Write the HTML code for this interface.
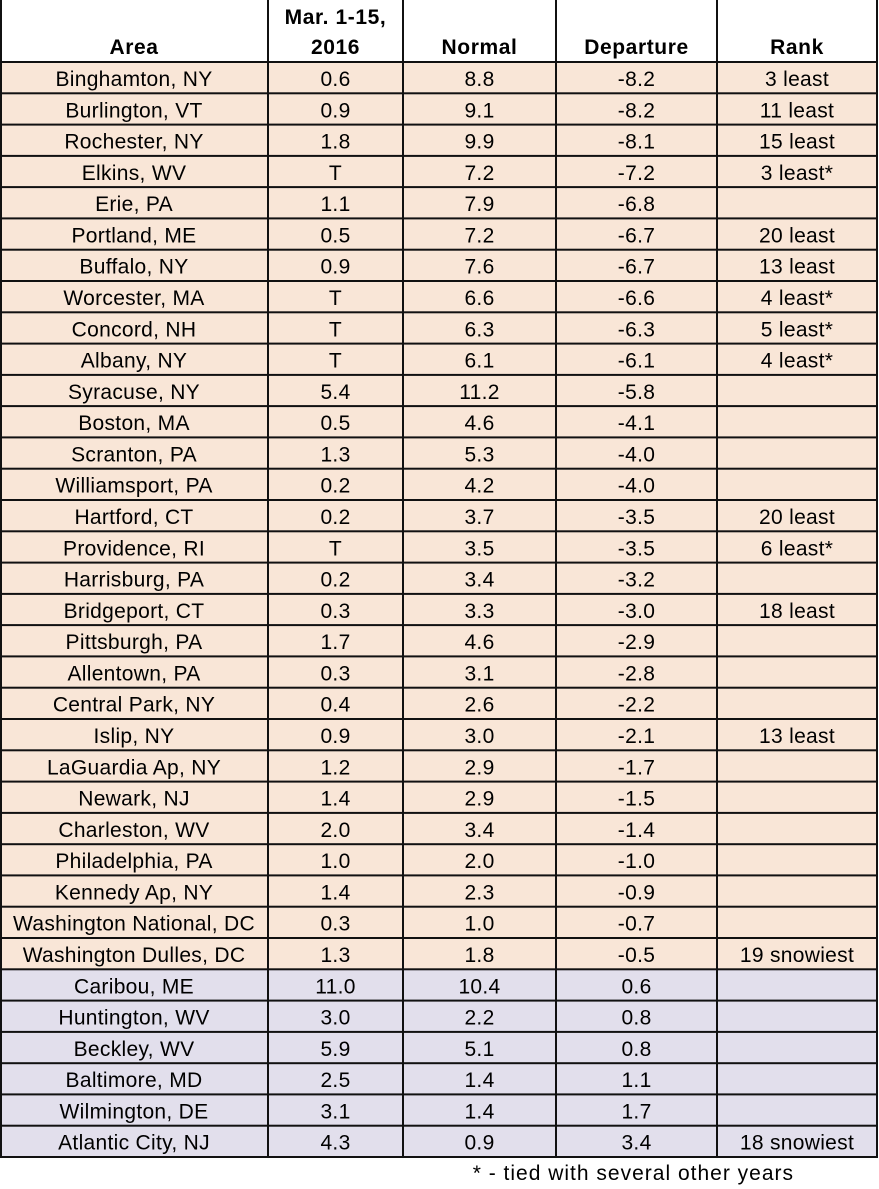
<!DOCTYPE html>
<html>
<head>
<meta charset="utf-8">
<style>
html,body{margin:0;padding:0;background:#fff;}
svg{display:block;}
text{font-family:"Liberation Sans",sans-serif;font-size:21px;fill:#000;letter-spacing:0.3px;}
.h{font-weight:bold;letter-spacing:0.6px;}
.f{letter-spacing:1px;}
</style>
</head>
<body>
<svg width="879" height="1189" viewBox="0 0 879 1189" xmlns="http://www.w3.org/2000/svg">
<rect x="0" y="0" width="879" height="1189" fill="#fff"/>
<!-- backgrounds -->
<rect x="0" y="62" width="877" height="907.3" fill="#F9E6D7"/>
<rect x="0" y="969.3" width="877" height="187.7" fill="#E2DFEC"/>
<!-- header -->
<g text-anchor="middle">
<text class="h" x="134" y="54">Area</text>
<text class="h" x="335.5" y="24">Mar. 1-15,</text>
<text class="h" x="335.5" y="54">2016</text>
<text class="h" x="479.5" y="54">Normal</text>
<text class="h" x="636.5" y="54">Departure</text>
<text class="h" x="797" y="54">Rank</text>
</g>
<g id="rows" text-anchor="middle"></g>
<g id="lines" fill="#111"></g>
<text class="f" x="794" y="1180" text-anchor="end">* - tied with several other years</text>
</svg>
<script>
var data=[
["Binghamton, NY","0.6","8.8","-8.2","3 least"],
["Burlington, VT","0.9","9.1","-8.2","11 least"],
["Rochester, NY","1.8","9.9","-8.1","15 least"],
["Elkins, WV","T","7.2","-7.2","3 least*"],
["Erie, PA","1.1","7.9","-6.8",""],
["Portland, ME","0.5","7.2","-6.7","20 least"],
["Buffalo, NY","0.9","7.6","-6.7","13 least"],
["Worcester, MA","T","6.6","-6.6","4 least*"],
["Concord, NH","T","6.3","-6.3","5 least*"],
["Albany, NY","T","6.1","-6.1","4 least*"],
["Syracuse, NY","5.4","11.2","-5.8",""],
["Boston, MA","0.5","4.6","-4.1",""],
["Scranton, PA","1.3","5.3","-4.0",""],
["Williamsport, PA","0.2","4.2","-4.0",""],
["Hartford, CT","0.2","3.7","-3.5","20 least"],
["Providence, RI","T","3.5","-3.5","6 least*"],
["Harrisburg, PA","0.2","3.4","-3.2",""],
["Bridgeport, CT","0.3","3.3","-3.0","18 least"],
["Pittsburgh, PA","1.7","4.6","-2.9",""],
["Allentown, PA","0.3","3.1","-2.8",""],
["Central Park, NY","0.4","2.6","-2.2",""],
["Islip, NY","0.9","3.0","-2.1","13 least"],
["LaGuardia Ap, NY","1.2","2.9","-1.7",""],
["Newark, NJ","1.4","2.9","-1.5",""],
["Charleston, WV","2.0","3.4","-1.4",""],
["Philadelphia, PA","1.0","2.0","-1.0",""],
["Kennedy Ap, NY","1.4","2.3","-0.9",""],
["Washington National, DC","0.3","1.0","-0.7",""],
["Washington Dulles, DC","1.3","1.8","-0.5","19 snowiest"],
["Caribou, ME","11.0","10.4","0.6",""],
["Huntington, WV","3.0","2.2","0.8",""],
["Beckley, WV","5.9","5.1","0.8",""],
["Baltimore, MD","2.5","1.4","1.1",""],
["Wilmington, DE","3.1","1.4","1.7",""],
["Atlantic City, NJ","4.3","0.9","3.4","18 snowiest"]
];
var NS="http://www.w3.org/2000/svg";
var cx=[134,335.5,479.5,636.5,797];
var top0=62,pitch=31.286;
var rows=document.getElementById("rows");
data.forEach(function(r,i){
  var y=top0+i*pitch+24;
  r.forEach(function(t,j){
    if(!t)return;
    var e=document.createElementNS(NS,"text");
    e.setAttribute("x",cx[j]);e.setAttribute("y",y.toFixed(1));
    e.textContent=t;rows.appendChild(e);
  });
});
var lines=document.getElementById("lines");
function rect(x,y,w,h){var e=document.createElementNS(NS,"rect");e.setAttribute("x",x);e.setAttribute("y",y);e.setAttribute("width",w);e.setAttribute("height",h);lines.appendChild(e);}
for(var i=0;i<=35;i++){var y=top0+i*pitch;rect(0,(y-1).toFixed(1),878,2);}
var vx=[1,268,403,556,717,877];
vx.forEach(function(x){rect(x-1,0,2,top0+35*pitch+1);});
</script>
</body>
</html>
